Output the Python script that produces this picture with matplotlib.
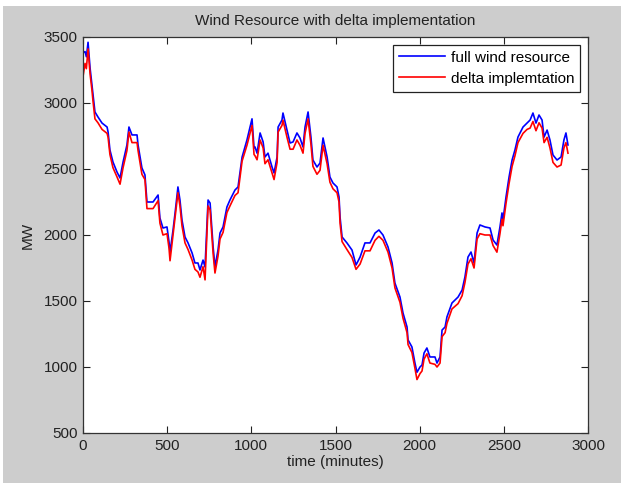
import matplotlib
matplotlib.use('Agg')
import matplotlib.pyplot as plt
from matplotlib.patches import Rectangle

# time in minutes (MW)
time_min = [0, 12, 20, 30, 42, 53, 59, 71, 89, 113, 143, 149, 160, 178, 202, 220, 238, 261, 273, 291,
            321, 327, 350, 368, 380, 416, 446, 457, 475, 499, 511, 517, 535, 547, 564, 576, 588, 606, 624, 648,
            665, 683, 695, 713, 725, 743, 755, 773, 784, 802, 814, 832, 855, 873, 903, 921, 945, 974, 1004, 1016,
            1022, 1034, 1052, 1070, 1081, 1099, 1123, 1135, 1153, 1159, 1182, 1188, 1212, 1230, 1248, 1271, 1289, 1307, 1319, 1337,
            1354, 1366, 1390, 1408, 1426, 1450, 1467, 1485, 1509, 1521, 1527, 1539, 1568, 1598, 1622, 1646, 1675, 1705, 1735, 1758,
            1782, 1812, 1836, 1853, 1883, 1901, 1925, 1931, 1954, 1972, 1984, 2002, 2014, 2026, 2043, 2061, 2091, 2103, 2121, 2133,
            2151, 2162, 2192, 2210, 2228, 2252, 2269, 2287, 2305, 2323, 2341, 2358, 2388, 2418, 2436, 2459, 2477, 2489, 2495, 2513,
            2531, 2549, 2566, 2584, 2614, 2638, 2656, 2673, 2691, 2709, 2727, 2739, 2757, 2774, 2792, 2816, 2840, 2857, 2869, 2881]

full_wind = [3380, 3390, 3350, 3460, 3265, 3136, 3060, 2932, 2894, 2848, 2818, 2780, 2644, 2553, 2477, 2432, 2553, 2682, 2818, 2758,
             2758, 2682, 2508, 2455, 2250, 2250, 2303, 2129, 2053, 2061, 1947, 1870, 2038, 2167, 2364, 2265, 2114, 1985, 1940, 1864,
             1788, 1788, 1735, 1810, 1758, 2265, 2242, 1909, 1760, 1886, 2015, 2061, 2212, 2265, 2341, 2364, 2590, 2720, 2880, 2660,
             2667, 2620, 2773, 2705, 2591, 2620, 2515, 2470, 2591, 2818, 2871, 2924, 2795, 2697, 2705, 2773, 2735, 2667, 2818, 2932,
             2742, 2568, 2515, 2545, 2735, 2591, 2439, 2394, 2364, 2288, 2136, 1985, 1940, 1886, 1773, 1833, 1940, 1940, 2015, 2038,
             2000, 1909, 1788, 1636, 1530, 1409, 1303, 1205, 1152, 1030, 960, 1000, 1015, 1106, 1144, 1076, 1076, 1030, 1076, 1280,
             1303, 1379, 1485, 1508, 1530, 1583, 1682, 1833, 1871, 1788, 2015, 2076, 2061, 2053, 1962, 1924, 2061, 2167, 2114, 2288,
             2439, 2568, 2644, 2742, 2818, 2848, 2871, 2924, 2848, 2909, 2871, 2742, 2795, 2720, 2606, 2568, 2591, 2720, 2773, 2682]

delta_impl = [3200, 3300, 3260, 3410, 3220, 3100, 3020, 2880, 2850, 2800, 2770, 2740, 2610, 2510, 2440, 2385, 2510, 2640, 2780, 2700,
              2700, 2640, 2460, 2420, 2200, 2200, 2260, 2090, 2000, 2010, 1900, 1805, 2000, 2130, 2320, 2220, 2070, 1940, 1890, 1810,
              1740, 1720, 1680, 1760, 1660, 2220, 2190, 1860, 1712, 1840, 1970, 2020, 2170, 2220, 2300, 2320, 2560, 2680, 2830, 2610,
              2600, 2570, 2720, 2660, 2540, 2570, 2470, 2420, 2550, 2780, 2830, 2870, 2740, 2650, 2650, 2720, 2680, 2620, 2770, 2880,
              2690, 2520, 2460, 2490, 2680, 2540, 2400, 2350, 2320, 2250, 2090, 1950, 1890, 1830, 1740, 1780, 1880, 1880, 1960, 1990,
              1960, 1870, 1750, 1600, 1490, 1370, 1260, 1170, 1110, 990, 905, 950, 970, 1060, 1100, 1030, 1020, 1000, 1030, 1230,
              1260, 1330, 1440, 1460, 1480, 1540, 1640, 1780, 1820, 1750, 1970, 2010, 2000, 2000, 1920, 1870, 2010, 2120, 2070, 2240,
              2390, 2520, 2600, 2700, 2770, 2800, 2810, 2860, 2790, 2850, 2810, 2700, 2740, 2660, 2550, 2515, 2530, 2660, 2700, 2620]

plt.rcParams['font.family'] = ['Liberation Sans', 'DejaVu Sans']

fig = plt.figure(figsize=(6.21, 4.83), dpi=100, facecolor='white')
# matlab-ish grey figure background, thin white strip top/left like the screenshot
fig.patches.append(Rectangle((3 / 621, 0), 1, 1 - 6 / 483, transform=fig.transFigure,
                             facecolor='#cdcdcd', edgecolor='none', zorder=-10))

ax = fig.add_axes([83 / 621, 50 / 483, 505 / 621, 396 / 483])
ax.plot(time_min, full_wind, color='#0000ff', lw=1.2, label='full wind resource')
ax.plot(time_min, delta_impl, color='#ff0000', lw=1.2, label='delta implemtation')

ax.set_xlim(0, 3000)
ax.set_ylim(500, 3500)
ax.set_xticks(range(0, 3001, 500))
ax.set_yticks(range(500, 3501, 500))
ax.tick_params(direction='in', top=True, right=True, length=5, labelsize=11, colors='#222222', pad=4)
for s in ax.spines.values():
    s.set_color('#333333')
    s.set_linewidth(0.9)

ax.set_title('Wind Resource with delta implementation', fontsize=11, color='#222222', pad=9)
ax.set_xlabel('time (minutes)', fontsize=11, color='#222222', labelpad=2)
ax.set_ylabel('MW', fontsize=11, color='#222222', labelpad=6)

leg = ax.legend(loc='upper right', fontsize=11, handlelength=3.0, fancybox=False,
                edgecolor='#222222', framealpha=1, borderaxespad=0.5, borderpad=0.4,
                labelspacing=0.45, handletextpad=0.4)
leg.get_frame().set_linewidth(0.9)

fig.savefig('out.png', dpi=100, facecolor=fig.get_facecolor())
